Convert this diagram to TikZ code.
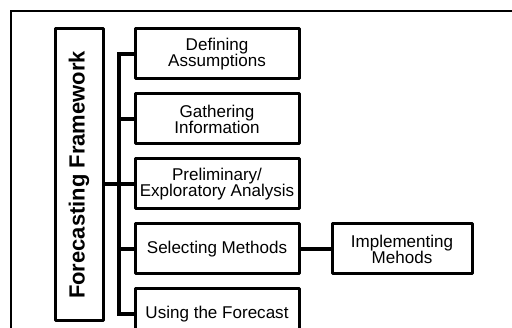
\documentclass[tikz,border=0pt]{standalone}
\usepackage{fontspec}
\setmainfont{Liberation Sans}
\usetikzlibrary{positioning, calc}

\begin{document}
\begin{tikzpicture}[
    % --- STYLES ---
    stage/.style={
        rectangle, draw=black, fill=white,
        line width=0.06cm, line join=round,
        minimum width=3.28cm,
        minimum height=1cm,
        align=center, inner sep=1pt,
        font=\fontsize{9.7}{9.1}\selectfont
    },
    title/.style={
        rectangle, draw=black, fill=white,
        line width=0.06cm, line join=round,
        minimum width=0.96cm, minimum height=5.84cm,
        inner sep=0pt,
        font=\fontsize{12.5}{14}\selectfont\bfseries
    },
    branch/.style={line width=0.08cm},
    node distance=0.24cm
]

% ===== 1. FRAME =====
\useasboundingbox (0,0) rectangle (10.24,-6.56);
\draw[line width=0.04cm] (0.22,-0.22) rectangle (10.6,-7);

% ===== 2. NODES =====
\node[title] (fw) at (1.58,-3.5) {\rotatebox{90}{Forecasting Framework}};

\node[stage] (s1) at (4.34,-1.08) {Defining\\ Assumptions};
\node[stage, below=of s1] (s2) {Gathering\\ Information};
\node[stage, below=of s2] (s3) {Preliminary/\\ Exploratory Analysis};
\node[stage, below=of s3] (s4) {Selecting Methods};
\node[stage, below=of s4] (s5) {Using the Forecast};

\node[stage, minimum width=2.8cm, right=0.6cm of s4] (s6) {Implementing\\ Mehods};

% ===== 3. CONNECTIONS =====
\draw[branch] (s1.west) -- ++(-0.3,0) |- (s5.west);
\draw[branch] (s2.west) -- ++(-0.3,0);
\draw[branch] (s4.west) -- ++(-0.3,0);
\draw[branch] (fw.east |- s3.west) -- (s3.west);
\draw[branch] (s4.east) -- (s6.west);

\end{tikzpicture}
\end{document}
